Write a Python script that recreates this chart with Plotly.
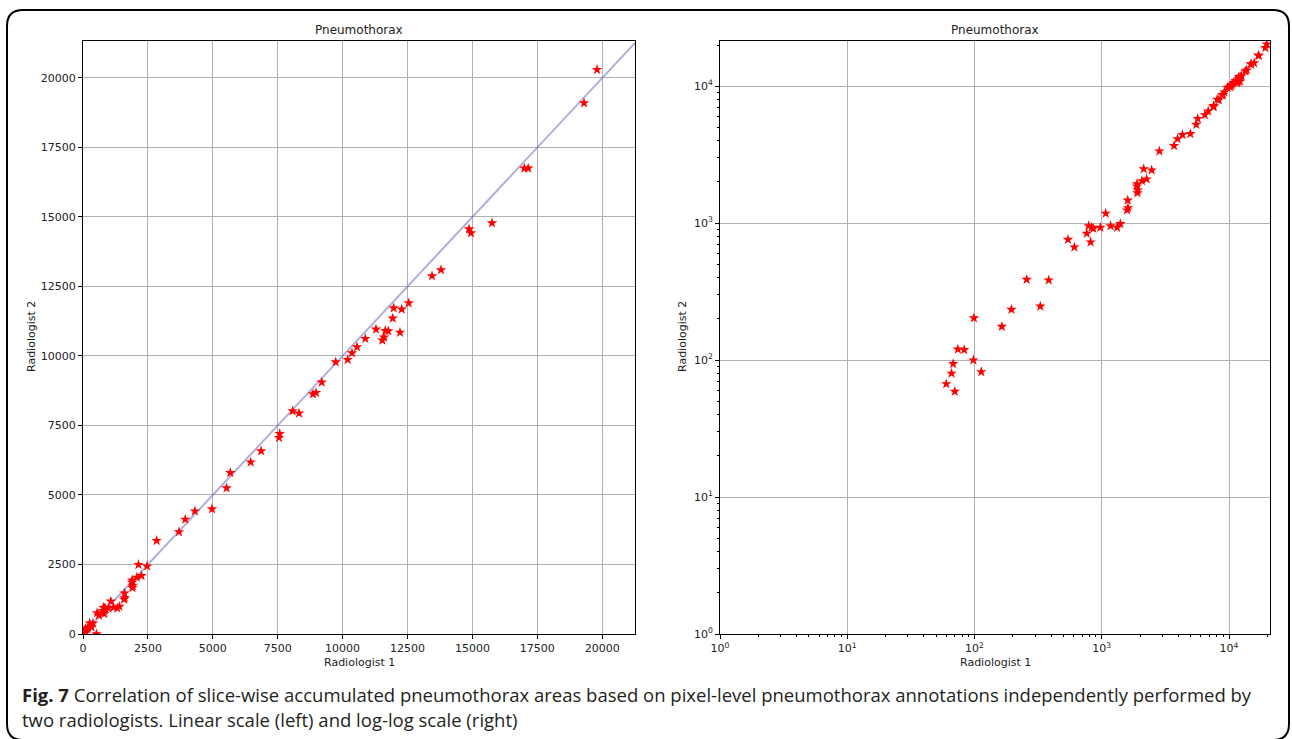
import plotly.graph_objects as go
import numpy as np

# ---- data (Radiologist 1 vs Radiologist 2 accumulated areas) ----
rad1 = [60, 70, 66, 68, 74, 83, 98, 113, 99, 164, 195, 257, 329, 383, 520,
        543, 609, 762, 789, 833, 859, 818, 975, 1074, 1174, 1320, 1400, 1580, 1608, 1600,
        1905, 1916, 1893, 1893, 2070, 2254, 2136, 2468, 2836, 3698, 3940, 4310, 4969,
        5530, 5675, 6460, 6860, 7550, 7576, 8077, 8321, 8860, 8975, 9195, 9734, 10196,
        10362, 10554, 10874, 11287, 11529, 11595, 11645, 11760, 11930, 11968, 12211,
        12276, 12546, 13444, 13790, 14869, 14946, 15755, 17000, 17150, 19300, 19800]
rad2 = [67, 59, 80, 94, 120, 119, 100, 82, 203, 176, 234, 388, 247, 384, 0,
        760, 668, 841, 955, 929, 914, 727, 930, 1178, 955, 930, 990, 1245, 1294, 1470,
        1664, 1741, 1862, 1936, 2037, 2095, 2493, 2438, 3356, 3672, 4120, 4420, 4496,
        5250, 5800, 6180, 6580, 7062, 7206, 8021, 7939, 8633, 8680, 9054, 9784, 9866,
        10107, 10323, 10622, 10960, 10565, 10673, 10910, 10899, 11356, 11726, 10850,
        11680, 11906, 12878, 13094, 14568, 14424, 14784, 16750, 16750, 19100, 20300]

lin_ticks = [0, 2500, 5000, 7500, 10000, 12500, 15000, 17500, 20000]
lin_tick_text = [str(v) for v in lin_ticks]
lin_max_x = 21263
lin_max_y = 21330
log_exps = [0, 1, 2, 3, 4]
log_tick_vals = [10 ** e for e in log_exps]
log_tick_text = ["10<sup>%d</sup>" % e for e in log_exps]
log_minor = [m * 10 ** e for e in range(0, 5) for m in range(2, 10)]

title_text = "Pneumothorax"
xlab = "Radiologist 1"
ylab = "Radiologist 2"
caption1 = "<b>Fig. 7</b> Correlation of slice-wise accumulated pneumothorax areas based on pixel-level pneumothorax annotations independently performed by"
caption2 = "two radiologists. Linear scale (left) and log-log scale (right)"

W, H = 1292, 739
def px(x): return x / W
def py(y): return 1 - y / H

tick_font = dict(family="DejaVu Sans", size=11, color="#222")
grid = "#b0b0b0"

fig = go.Figure()

ref_end = min(lin_max_x, lin_max_y)
fig.add_trace(go.Scatter(x=[0, ref_end], y=[0, ref_end], mode="lines",
                         line=dict(color="rgba(95,95,185,0.5)", width=2),
                         xaxis="x", yaxis="y", showlegend=False, hoverinfo="skip"))
fig.add_trace(go.Scatter(x=rad1, y=rad2, mode="markers",
                         marker=dict(symbol="star", size=8, color="red", line=dict(width=0)),
                         xaxis="x", yaxis="y", showlegend=False))
fig.add_trace(go.Scatter(x=rad1, y=rad2, mode="markers",
                         marker=dict(symbol="star", size=8, color="red", line=dict(width=0)),
                         xaxis="x2", yaxis="y2", showlegend=False))

axis_common = dict(showline=True, linecolor="black", linewidth=1, mirror=True,
                   ticks="outside", ticklen=4, tickcolor="black", tickwidth=1,
                   showgrid=True, gridcolor=grid, gridwidth=1, zeroline=False,
                   tickfont=tick_font, automargin=False)
minor_log = dict(tickvals=log_minor, ticks="outside", ticklen=2, tickcolor="black",
                 tickwidth=1, showgrid=False)

fig.update_layout(
    width=W, height=H,
    margin=dict(l=0, r=0, t=0, b=0, autoexpand=False),
    paper_bgcolor="white", plot_bgcolor="white",
    xaxis=dict(domain=[px(83), px(635)], range=[0, lin_max_x], tickvals=lin_ticks,
               ticktext=lin_tick_text, anchor="y", **axis_common),
    yaxis=dict(domain=[py(634), py(41)], range=[0, lin_max_y], tickvals=lin_ticks,
               ticktext=lin_tick_text, anchor="x", **axis_common),
    xaxis2=dict(domain=[px(720), px(1270)], type="log", range=[0, np.log10(21000)],
                tickvals=log_tick_vals, ticktext=log_tick_text, anchor="y2",
                minor=minor_log, **axis_common),
    yaxis2=dict(domain=[py(634), py(41)], type="log", range=[0, np.log10(21400)],
                tickvals=log_tick_vals, ticktext=log_tick_text, anchor="x2",
                minor=minor_log, **axis_common),
)

ann_font = dict(family="DejaVu Sans", size=12, color="#222")
lab_font = dict(family="DejaVu Sans", size=11, color="#222")
annots = [
    dict(text=title_text, x=px(359), y=py(30), font=ann_font),
    dict(text=title_text, x=px(995), y=py(30), font=ann_font),
    dict(text=xlab, x=px(359), y=py(662), font=lab_font),
    dict(text=xlab, x=px(995), y=py(662), font=lab_font),
    dict(text=ylab, x=px(32), y=py(337), font=lab_font, textangle=-90),
    dict(text=ylab, x=px(683), y=py(337), font=lab_font, textangle=-90),
]
for a in annots:
    fig.add_annotation(xref="paper", yref="paper", showarrow=False,
                       xanchor="center", yanchor="middle", **a)

cap_font = dict(family="Open Sans", size=18.5, color="#231f20")
fig.add_annotation(xref="paper", yref="paper", showarrow=False, xanchor="left", yanchor="middle",
                   x=px(20), y=py(694), text=caption1, font=cap_font)
fig.add_annotation(xref="paper", yref="paper", showarrow=False, xanchor="left", yanchor="middle",
                   x=px(20), y=py(719), text=caption2, font=cap_font)

# rounded border frame
L, T, R, B, rr = 7, 10, 1289, 740, 16
path = (f"M {px(L+rr)},{py(T)} L {px(R-rr)},{py(T)} Q {px(R)},{py(T)} {px(R)},{py(T+rr)} "
        f"L {px(R)},{py(B-rr)} Q {px(R)},{py(B)} {px(R-rr)},{py(B)} "
        f"L {px(L+rr)},{py(B)} Q {px(L)},{py(B)} {px(L)},{py(B-rr)} "
        f"L {px(L)},{py(T+rr)} Q {px(L)},{py(T)} {px(L+rr)},{py(T)} Z")
fig.add_shape(type="path", xref="paper", yref="paper", path=path,
              line=dict(color="black", width=2), layer="above")

fig.write_html("out.html", config={"displayModeBar": False},
               post_script="document.body.style.margin='0';document.body.style.overflow='hidden';")
